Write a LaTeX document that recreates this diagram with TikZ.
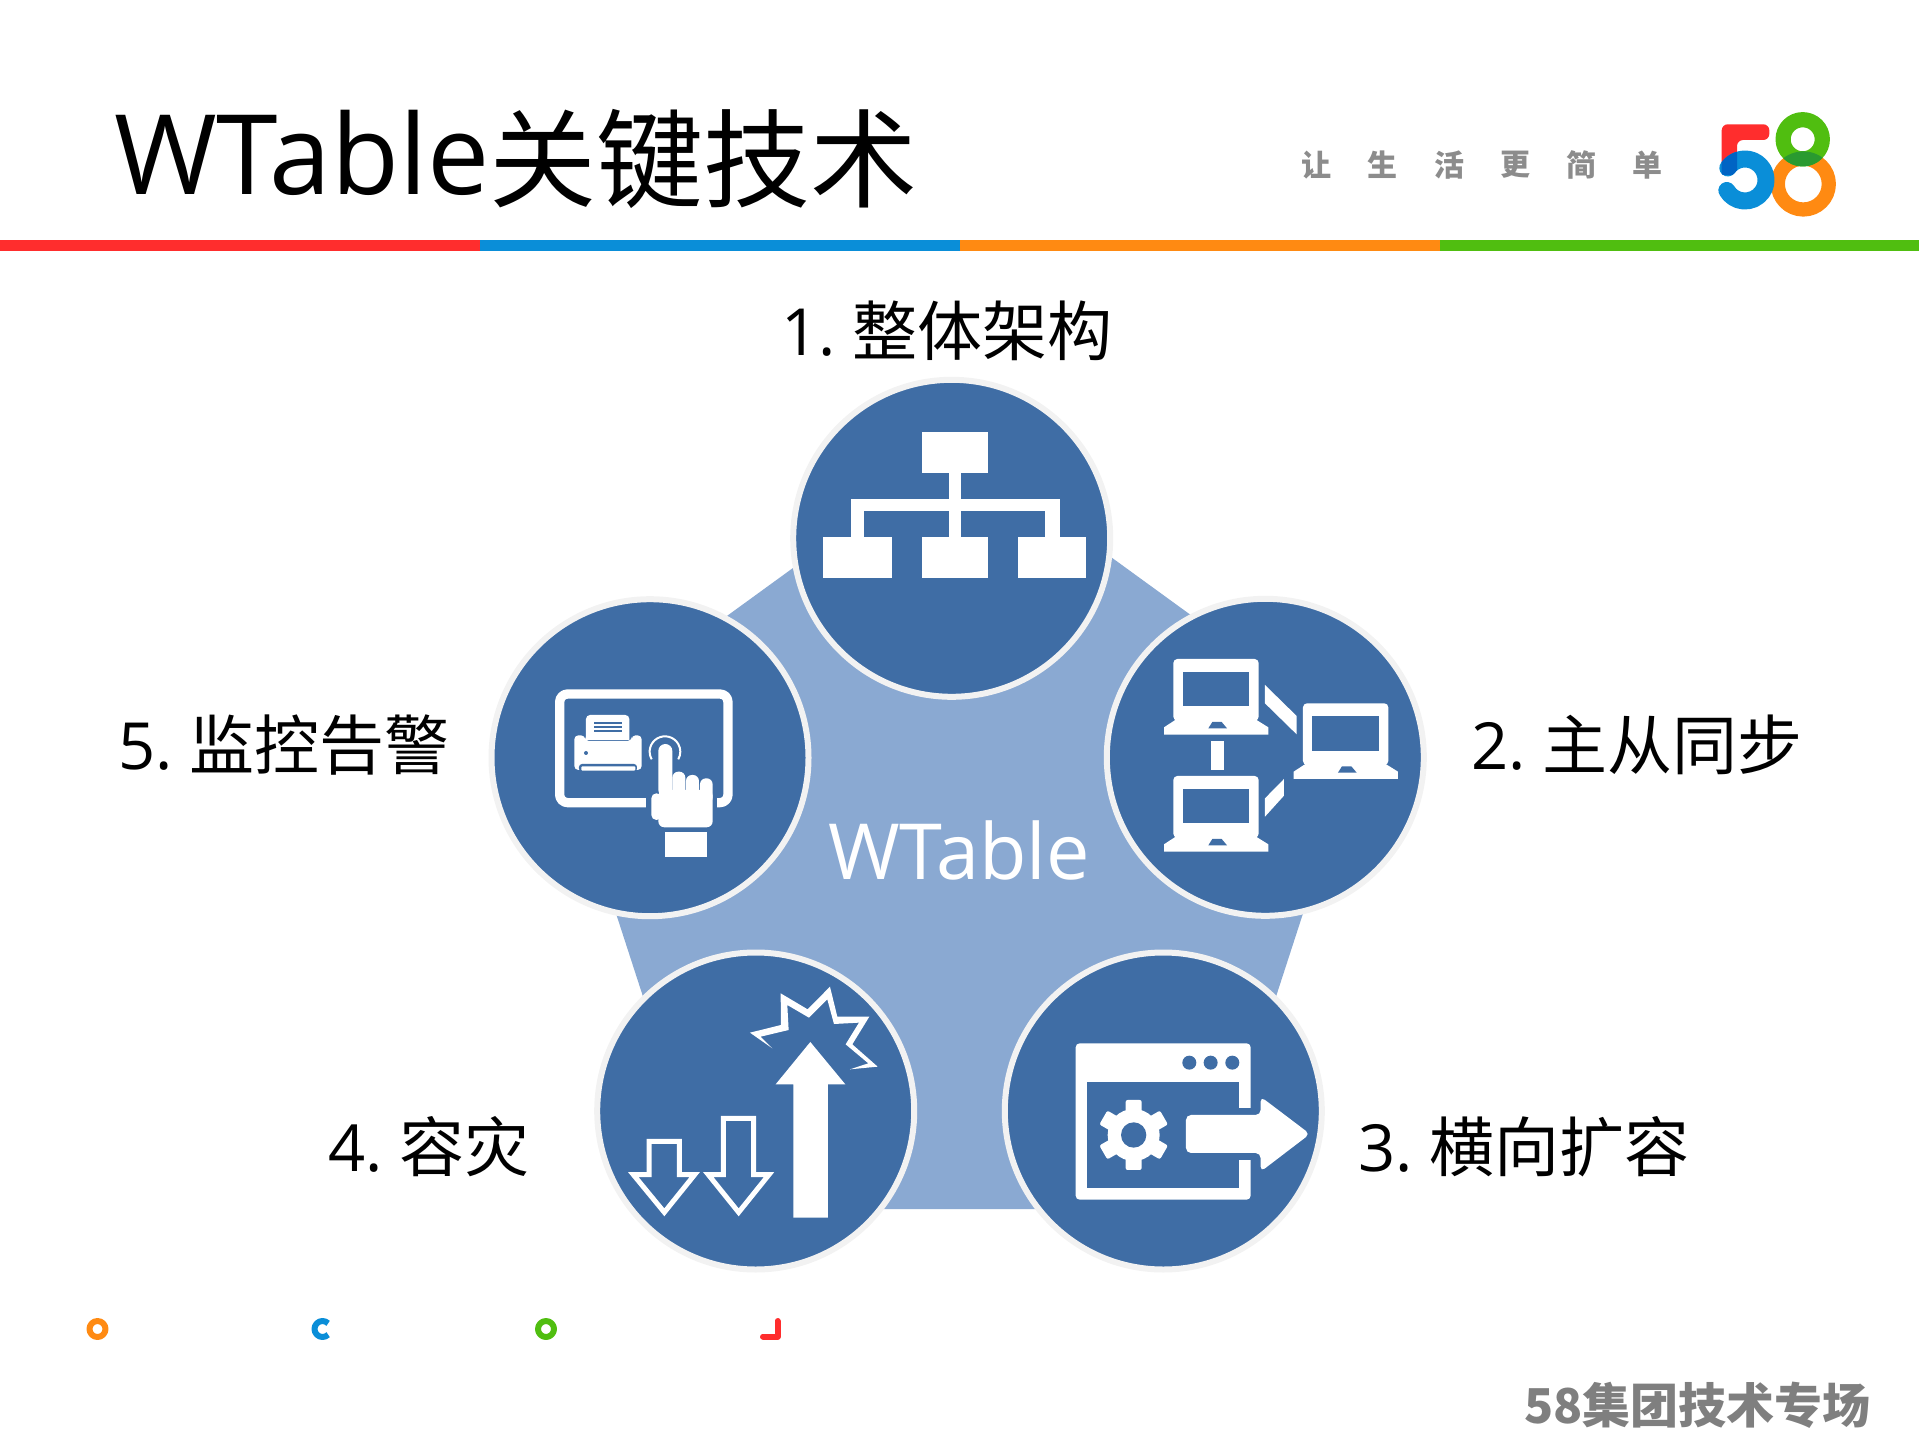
\documentclass[tikz,border=0pt]{standalone}
\usepackage{fontspec}
\setmainfont{Open Sans}
\newfontfamily\cjk{Noto Sans CJK SC}
\begin{document}
\begin{tikzpicture}[
        x=1pt, y=-1pt,  % One unit is one pixel of the slide, y runs downwards
        line join=round,
        stage/.style={circle, fill=myblue, draw=myring, line width=6pt, minimum size=317pt, inner sep=0pt},
        heading/.style={anchor=base west, inner sep=0pt, text=black, font=\fontsize{111}{120}\selectfont},
        stagelabel/.style={anchor=base west, inner sep=0pt, text=black, font=\fontsize{65}{72}\selectfont},
        motto/.style={inner sep=0pt, text=mygray, font=\fontsize{30}{34}\selectfont\bfseries},
        iconbox/.style={shift={(#1)}, scale=0.3333}
        ]

        % 1. Define colors to match the image
        \definecolor{myblue}{HTML}{3F6DA5}
        \definecolor{mylightblue}{HTML}{8AA9D2}
        \definecolor{myring}{HTML}{F2F2F2}
        \definecolor{mygray}{HTML}{8C8C8C}
        \definecolor{myfoot}{HTML}{7F7F7F}
        \definecolor{lred}{HTML}{FF2D2D}
        \definecolor{lblue}{HTML}{0A8ED8}
        \definecolor{lorange}{HTML}{FF8A12}
        \definecolor{lgreen}{HTML}{50BE10}
        \definecolor{ldarkgreen}{HTML}{2A9A30}
        \definecolor{ldarkblue}{HTML}{0064C4}

        \useasboundingbox (0,0) rectangle (1919,1439);

        % 2. Header: title, colored rule, motto
        \node[heading] (title) at (114,195) {WTable\raisebox{-5pt}{\cjk\fontsize{107}{120}\selectfont 关键技术}};
        \fill[lred] (0,240) rectangle (480,251);
        \fill[lblue] (480,240) rectangle (960,251);
        \fill[lorange] (960,240) rectangle (1440,251);
        \fill[lgreen] (1440,240) rectangle (1919,251);
        \foreach \ch/\cx in {让/1316, 生/1382, 活/1449, 更/1515, 简/1581, 单/1647}
            \node[motto] (motto\cx) at (\cx,165) {\cjk\ch};

        % Logo
        \draw[lorange, line width=14.2pt] (1803.3,184) circle (25.5);
        \draw[lgreen, line width=15.2pt] (1802.7,139.3) circle (19.6);
        \begin{scope}
            \clip (1803.3,184) circle (32.6);
            \draw[ldarkgreen, line width=15.2pt] (1802.7,139.3) circle (19.6);
        \end{scope}
        \fill[lred, rounded corners=6pt] (1721.7,124.3) -- (1769.3,124.3) -- (1769.3,140) -- (1737,140) -- (1737,172) -- (1721.7,172) -- cycle;
        \draw[lblue, line width=17pt, line cap=round] ([shift={(215:21)}]1745,180) arc (215:510:21);
        \begin{scope}
            \clip (1721.7,140) rectangle (1737,175);
            \draw[ldarkblue, line width=17pt, line cap=round] ([shift={(215:21)}]1745,180) arc (215:250:21);
        \end{scope}

        % 3. Pentagon behind the circles
        \coordinate (PTop) at (959.5,447);
        \coordinate (PRight) at (1360,738);
        \coordinate (PLowRight) at (1207,1209);
        \coordinate (PLowLeft) at (712,1209);
        \coordinate (PLeft) at (559,738);
        \fill[mylightblue] (PTop) -- (PRight) -- (PLowRight) -- (PLowLeft) -- (PLeft) -- cycle;
        \node[anchor=base west, inner sep=0pt, text=white, font=\fontsize{77.4}{80}\selectfont] (core) at (828,879) {WTable};

        % 4. The five circles and their labels
        \node[stage] (arch) at (951.7,538.3) {};
        \node[stage] (sync) at (1265.3,757.3) {};
        \node[stage] (scale) at (1163.3,1111) {};
        \node[stage] (disaster) at (755.7,1111) {};
        \node[stage] (alarm) at (650,757.7) {};

        \node[stagelabel] (archlabel) at (781,355) {1.\hspace{17pt}\cjk 整体架构};
        \node[stagelabel] (synclabel) at (1471,769) {2.\hspace{17pt}\cjk 主从同步};
        \node[stagelabel] (scalelabel) at (1358,1171) {3.\hspace{17pt}\cjk 横向扩容};
        \node[stagelabel] (disasterlabel) at (328,1171) {4.\hspace{17pt}\cjk 容灾};
        \node[stagelabel] (alarmlabel) at (118,769) {5.\hspace{17pt}\cjk 监控告警};

        % 5. Icons
        % Tree of boxes
        \begin{scope}[iconbox={780,370}]
            \fill[white] (426,186) rectangle (624,308);
            \fill[white] (507,308) rectangle (543,500);
            \fill[white] (213,387) rectangle (840,423);
            \fill[white] (213,387) rectangle (251,500);
            \fill[white] (795,387) rectangle (840,500);
            \fill[white] (129,500) rectangle (336,623);
            \fill[white] (426,500) rectangle (624,623);
            \fill[white] (714,500) rectangle (918,623);
        \end{scope}

        % Three laptops
        \begin{scope}[iconbox={1100,590}]
            \foreach \lx/\ly in {220/207, 609/340, 220/558} {
                \begin{scope}[shift={(\lx,\ly)}]
                    \fill[white, rounded corners=4pt] (0,0) rectangle (256,185);
                    \fill[white] (15,177) -- (-28,205) -- (-28,227) -- (285,227) -- (285,205) -- (240,177) -- cycle;
                    \fill[myblue] (28,38) rectangle (228,142);
                    \fill[myblue] (105,208) -- (117,189) -- (145,189) -- (161,208) -- cycle;
                \end{scope}
            }
            \fill[white] (334,453) rectangle (372,539);
            \fill[white] (495,285) -- (590,378) -- (590,433) -- (495,340) -- cycle;
            \fill[white] (552,567) -- (552,617) -- (495,680) -- (495,625) -- cycle;
        \end{scope}

        % Window with gear and arrow
        \begin{scope}[iconbox={1000,950}]
            \fill[white, rounded corners=4pt] (227,280) rectangle (752,749);
            \fill[myblue] (261,397) rectangle (718,715);
            \fill[myblue] (718,473) rectangle (754,631);
            \foreach \dx in {568,632,697}
                \fill[myblue] (\dx,338) circle (21);
            \fill[white] (401,555) circle (78);
            \foreach \ang in {0,60,...,300}
                \fill[white, rounded corners=2pt, shift={(401,555)}, rotate=\ang+90] (45,-24) rectangle (105,24);
            \fill[myblue] (401,555) circle (38);
            \fill[white, rounded corners=5pt] (558,495) -- (782,495) -- (782,440) -- (930,552) -- (782,665) -- (782,609) -- (558,609) -- cycle;
        \end{scope}

        % Arrows with burst
        \begin{scope}[iconbox={590,950}]
            \fill[white] (610,803) -- (610,403) -- (557,403) -- (661,276) -- (766,403) -- (714,403) -- (714,803) -- cycle;
            \draw[white, line width=5pt, line join=miter] (130,674) -- (177,674) -- (177,574) -- (268,574) -- (268,674) -- (314,674) -- (223,787) -- cycle;
            \draw[white, line width=5pt, line join=miter] (355,674) -- (400,674) -- (400,505) -- (491,505) -- (491,674) -- (537,674) -- (446,787) -- cycle;
            \fill[white] (480,248) -- (573,225) -- (572,130) -- (653,178) -- (720,110) -- (742,200) -- (838,200) -- (787,283) -- (863,350) -- (780,358)
                -- (835,340) -- (767,283) -- (807,218) -- (732,222) -- (712,148) -- (657,203) -- (592,165) -- (596,240) -- (512,260) -- (547,295) -- cycle;
        \end{scope}

        % Tablet with printer and hand
        \begin{scope}[iconbox={490,590}]
            \draw[white, line width=9.3pt, rounded corners=8pt] (209,312) rectangle (714,638);
            \fill[myblue] (468,615) rectangle (682,660);
            % Printer
            \fill[white, rounded corners=4pt] (288,375) rectangle (418,470);
            \fill[myblue] (285,450) rectangle (425,453);
            \fill[white, rounded corners=4pt] (253,436) -- (285,436) -- (285,453) -- (425,453) -- (425,436) -- (455,436) -- (455,540) -- (253,540) -- cycle;
            \fill[myblue] (311,397) rectangle (396,402);
            \fill[myblue] (311,409) rectangle (396,414);
            \fill[myblue] (311,421) rectangle (396,426);
            \fill[myblue] (288,489) circle (6);
            \fill[myblue, rounded corners=3pt] (267,545) -- (267,522) -- (441,522) -- (441,545) -- cycle;
            \fill[white, rounded corners=1pt] (274,542) -- (274,529) -- (436,529) -- (436,542) -- cycle;
            % Hand
            \draw[white, line width=2pt] ([shift={(150:46)}]525,485) arc (150:390:46);
            \fill[white, rounded corners=7pt] (505,462) rectangle (547,620);
            \fill[white, rounded corners=6pt] (547,545) rectangle (586,640);
            \fill[white, rounded corners=6pt] (588,555) rectangle (627,640);
            \fill[white, rounded corners=6pt] (630,565) rectangle (668,640);
            \fill[white, rounded corners=6pt] (505,600) rectangle (668,712);
            \fill[white, rounded corners=5pt] (484,610) rectangle (515,690);
            \fill[white] (525,726) rectangle (651,800);
        \end{scope}

        % 6. Bottom marks and footer
        \draw[lorange, line width=6pt] (97.5,1329) circle (8);
        \draw[lblue, line width=6pt] ([shift={(45:8)}]322.5,1329) arc (45:315:8);
        \draw[lgreen, line width=6pt] (546,1329) circle (8);
        \draw[lred, line width=6pt, line cap=round, line join=round] (777.5,1321) -- (777.5,1336.5) -- (763,1336.5);
        \node[anchor=base west, inner sep=0pt, text=myfoot, font=\fontsize{48}{52}\selectfont\bfseries] (foot) at (1524,1423) {\cjk\bfseries 58集团技术专场};
    \end{tikzpicture}
\end{document}
